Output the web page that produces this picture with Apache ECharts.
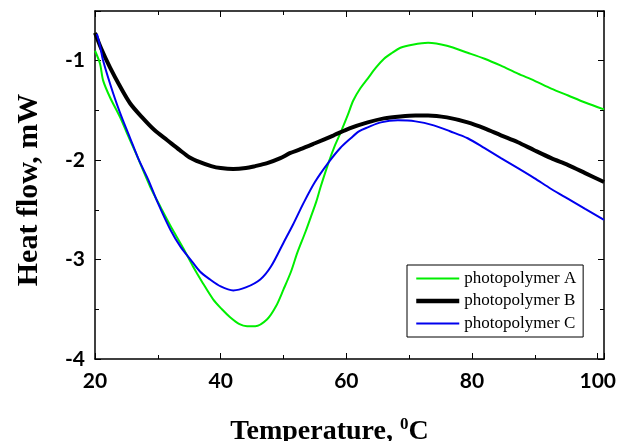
<!DOCTYPE html>
<html>
<head>
<meta charset="utf-8">
<script src="https://cdn.jsdelivr.net/npm/echarts@6/dist/echarts.min.js"></script>
<style>
    html, body { margin: 0; padding: 0; background: #fff; }
    #chart { width: 617px; height: 441px; }
</style>
</head>
<body>
<div id="chart"></div>
<script>
    // photopolymer A (green)
    var xA = [20, 20.8, 21.3, 22.4, 24, 25.1, 26.5, 28.8, 30.5, 32, 34, 35.6, 37, 38.8, 40.2, 41.5, 43, 44.2, 45.5, 47.4, 48.8, 50, 51.2, 52.2, 53.5, 54.3, 55.2, 55.9, 57.2, 58.2, 59.1, 60.2, 61.1, 62.2, 63.4, 64.7, 66, 67.3, 68.6, 70.5, 73, 76, 79.3, 82, 84.6, 87.3, 89.9, 92.6, 95.3, 98, 101];
    var yA = [-0.9, -1.03, -1.2, -1.37, -1.57, -1.73, -1.93, -2.27, -2.48, -2.66, -2.88, -3.07, -3.22, -3.4, -3.5, -3.58, -3.65, -3.67, -3.67, -3.6, -3.47, -3.3, -3.12, -2.93, -2.72, -2.58, -2.42, -2.27, -2.02, -1.85, -1.72, -1.55, -1.4, -1.28, -1.18, -1.07, -0.98, -0.92, -0.87, -0.84, -0.82, -0.85, -0.92, -0.98, -1.05, -1.13, -1.2, -1.28, -1.35, -1.42, -1.49];

    // photopolymer B (black)
    var xB = [20, 21, 22.4, 24, 25.6, 27.5, 29.5, 31.5, 33.5, 35, 36.7, 38.5, 40, 42, 44, 45.5, 47.4, 49.5, 51, 52.7, 55, 58, 60.5, 63.4, 66, 68.6, 71, 73, 76, 79.3, 82, 84.6, 87.3, 89.9, 92.6, 95.3, 98, 101];
    var yB = [-0.72, -0.88, -1.07, -1.26, -1.43, -1.57, -1.7, -1.8, -1.9, -1.97, -2.02, -2.06, -2.08, -2.09, -2.08, -2.06, -2.03, -1.98, -1.93, -1.89, -1.83, -1.75, -1.68, -1.62, -1.58, -1.56, -1.55, -1.55, -1.57, -1.62, -1.68, -1.75, -1.82, -1.9, -1.98, -2.05, -2.13, -2.22];

    // photopolymer C (blue)
    var xC = [20.3, 20.8, 21.3, 22.9, 24.2, 25.6, 27, 28.5, 30, 32, 33.6, 35.2, 36.7, 38.3, 40, 42, 44, 46.3, 48, 50, 51.5, 53.2, 55, 57.2, 59, 60.7, 62, 63.4, 65.5, 68.2, 71, 73.9, 76.5, 79.3, 82, 84.6, 87.3, 89.9, 92.6, 95.3, 98, 101];
    var yC = [-0.73, -0.85, -1.0, -1.33, -1.56, -1.78, -2.0, -2.2, -2.43, -2.7, -2.87, -3.0, -3.12, -3.2, -3.27, -3.31, -3.28, -3.2, -3.07, -2.83, -2.65, -2.43, -2.22, -2.02, -1.88, -1.78, -1.71, -1.67, -1.62, -1.6, -1.61, -1.65, -1.71, -1.78, -1.88, -1.98, -2.08, -2.18, -2.29, -2.39, -2.49, -2.6];

    var names = ['photopolymer A', 'photopolymer B', 'photopolymer C'];

    function pairs(xs, ys) {
        return xs.map(function (x, i) { return [x, ys[i]]; });
    }

    var chart = echarts.init(document.getElementById('chart'));

    var tickFont = { fontFamily: 'Lato', fontWeight: 'bold', fontSize: 21, color: '#000' };
    var axisLine = { show: true, lineStyle: { color: '#000', width: 1.5 } };
    var tick = { inside: true, length: 6, lineStyle: { color: '#000' } };
    var minor = { show: true, splitNumber: 2, length: 4, lineStyle: { color: '#000' } };

    chart.setOption({
        animation: false,
        grid: { left: 95, right: 13, top: 11, bottom: 82, containLabel: false, outerBoundsMode: 'none' },
        legend: {
            data: [
                { name: names[0], lineStyle: { width: 2 } },
                { name: names[1], lineStyle: { width: 4.5 } },
                { name: names[2], lineStyle: { width: 2 } }
            ],
            orient: 'vertical',
            left: 407,
            top: 265,
            padding: [5, 7, 5, 7],
            itemWidth: 43,
            itemHeight: 17,
            itemGap: 5.5,
            borderColor: '#000',
            borderWidth: 1,
            itemStyle: { opacity: 0 },
            textStyle: { fontFamily: 'Liberation Serif', fontSize: 17, color: '#000', lineHeight: 17 }
        },
        xAxis: [{
            type: 'value',
            min: 20,
            max: 101,
            interval: 20,
            name: 'Temperature, {sup|0}C',
            nameLocation: 'middle',
            nameGap: 57,
            nameTextStyle: {
                fontFamily: 'Liberation Serif', fontWeight: 'bold', fontSize: 28, color: '#000',
                padding: [0, 40, 0, 0],
                rich: { sup: { fontFamily: 'Liberation Serif', fontWeight: 'bold', fontSize: 17, color: '#000', padding: [0, 0, 14, 0] } }
            },
            axisLine: axisLine,
            axisTick: tick,
            minorTick: minor,
            splitLine: { show: false },
            axisLabel: Object.assign({ margin: 12, formatter: function (v) { return v % 20 === 0 ? v : ''; } }, tickFont)
        }, {
            type: 'value',
            position: 'top',
            min: 20,
            max: 101,
            interval: 20,
            axisLine: axisLine,
            axisTick: tick,
            minorTick: minor,
            splitLine: { show: false },
            axisLabel: { show: false }
        }],
        yAxis: [{
            type: 'value',
            min: -4,
            max: -0.5,
            interval: 1,
            name: 'Heat flow, mW',
            nameLocation: 'middle',
            nameGap: 51,
            nameRotate: 90,
            nameTextStyle: { fontFamily: 'Liberation Serif', fontWeight: 'bold', fontSize: 30, color: '#000', padding: [0, 10, 0, 0] },
            axisLine: axisLine,
            axisTick: tick,
            minorTick: minor,
            splitLine: { show: false },
            axisLabel: Object.assign({ margin: 10, formatter: function (v) { return Number.isInteger(v) ? v : ''; } }, tickFont)
        }, {
            type: 'value',
            position: 'right',
            min: -4,
            max: -0.5,
            interval: 1,
            axisLine: axisLine,
            axisTick: tick,
            minorTick: minor,
            splitLine: { show: false },
            axisLabel: { show: false }
        }],
        series: [
            {
                name: names[0], type: 'line', symbol: 'none', smooth: 0.3,
                lineStyle: { color: '#00ee00', width: 2 }, itemStyle: { color: '#00ee00' },
                data: pairs(xA, yA)
            },
            {
                name: names[1], type: 'line', symbol: 'none', smooth: 0.3,
                lineStyle: { color: '#000', width: 4 }, itemStyle: { color: '#000' },
                data: pairs(xB, yB)
            },
            {
                name: names[2], type: 'line', symbol: 'none', smooth: 0.3,
                lineStyle: { color: '#0000ee', width: 2 }, itemStyle: { color: '#0000ee' },
                data: pairs(xC, yC)
            }
        ]
    });
</script>
</body>
</html>
